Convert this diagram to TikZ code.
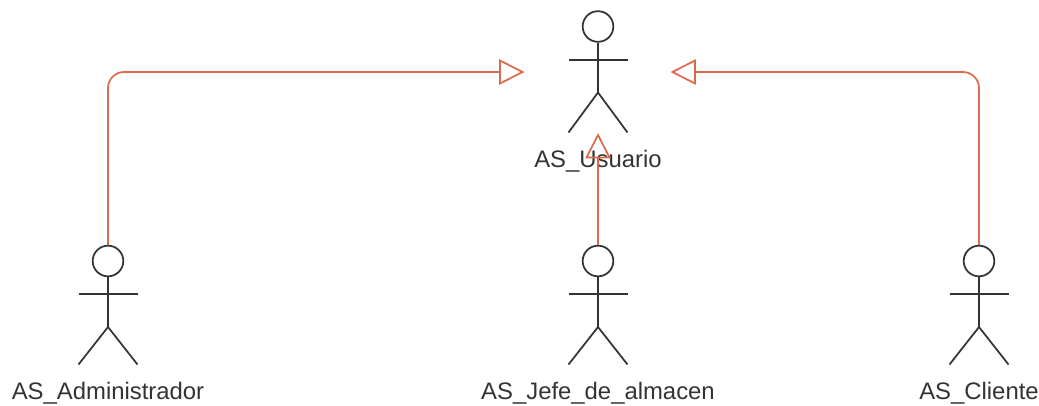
\documentclass[tikz,border=0pt]{standalone}
\usepackage{fontspec}
\setmainfont{Liberation Sans}
\usetikzlibrary{arrows.meta}
\definecolor{linea}{HTML}{DB6A4F}
\definecolor{palo}{HTML}{333333}
\tikzset{
	cabeza/.style={circle,draw=palo,line width=1.3pt,minimum size=23pt,inner sep=0pt},
	cuerpo/.style={draw=palo,line width=1.3pt},
	etiqueta/.style={inner sep=0pt,text=palo,font=\fontsize{17.9pt}{20pt}\selectfont},
	hereda/.style={draw=linea,line width=1.3pt,rounded corners=12pt,-{Triangle[open,length=19pt,width=19pt,line width=1.3pt]}}
}
\newcommand{\actor}[5]{
	\node [cabeza] (#1) at (#2,#3) {};
	\draw [cuerpo] (#1.south) -- (#2,#3+66);
	\draw [cuerpo] (#2-29.5,#3+33.3) -- (#2+29.5,#3+33.3);
	\draw [cuerpo] (#2-29.5,#3+#4) -- (#2,#3+66) -- (#2+29.5,#3+#4);
	\node [etiqueta] (#1txt) at (#2,#3+#4+28.5) {#5};
}
\begin{document}
\begin{tikzpicture}[x=0.75pt,y=-0.75pt]
	\useasboundingbox (0,0) rectangle (1039,405);
	\actor{usuario}{598}{26.5}{106}{AS\_Usuario}
	\actor{admin}{108}{261}{103.5}{AS\_Administrador}
	\actor{jefe}{598}{261}{103.5}{AS\_Jefe\_de\_almacen}
	\actor{cliente}{979}{261}{103.5}{AS\_Cliente}
	% puntas libres junto al actor
	\coordinate (usuarioizq) at (524.5,72);
	\coordinate (usuarioder) at (670.5,72);
	\coordinate (usuarioaba) at (598,133);
	\draw [hereda] (admin.north) |- (usuarioizq);
	\draw [hereda] (cliente.north) |- (usuarioder);
	\draw [hereda] (jefe.north) -- (usuarioaba);
\end{tikzpicture}
\end{document}
